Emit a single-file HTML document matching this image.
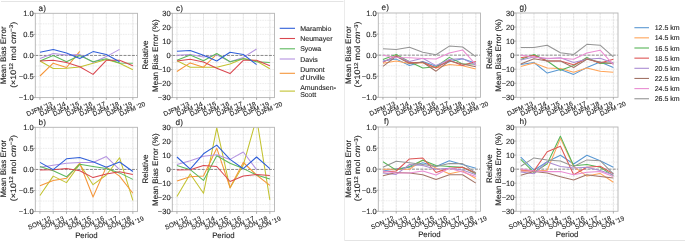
<!DOCTYPE html>
<html><head><meta charset="utf-8"><style>
html,body{margin:0;padding:0;background:#fff;width:685px;height:242px;overflow:hidden}
svg{display:block;will-change:transform} text{-webkit-font-smoothing:antialiased;text-rendering:geometricPrecision;stroke:#262626;stroke-width:0.12px}
</style></head><body>
<svg width="685" height="242" viewBox="0 0 685 242" font-family='"Liberation Sans", sans-serif'>
<rect width="685" height="242" fill="#fff"/>
<line x1="1" y1="1.5" x2="343.5" y2="1.5" stroke="#e4e4e4" stroke-width="1"/>
<line x1="344.5" y1="0" x2="344.5" y2="240.5" stroke="#ebebeb" stroke-width="1"/>
<line x1="344.5" y1="240.5" x2="685" y2="240.5" stroke="#e4e4e4" stroke-width="1"/>
<clipPath id="c35_13"><rect x="35.30" y="13.30" width="102.20" height="84.30"/></clipPath>
<line x1="35.30" y1="23.84" x2="137.50" y2="23.84" stroke="#e4e4e4" stroke-width="0.7" stroke-dasharray="1.6 0.9"/>
<line x1="35.30" y1="34.38" x2="137.50" y2="34.38" stroke="#e4e4e4" stroke-width="0.7" stroke-dasharray="1.6 0.9"/>
<line x1="35.30" y1="44.91" x2="137.50" y2="44.91" stroke="#e4e4e4" stroke-width="0.7" stroke-dasharray="1.6 0.9"/>
<line x1="35.30" y1="65.99" x2="137.50" y2="65.99" stroke="#e4e4e4" stroke-width="0.7" stroke-dasharray="1.6 0.9"/>
<line x1="35.30" y1="76.52" x2="137.50" y2="76.52" stroke="#e4e4e4" stroke-width="0.7" stroke-dasharray="1.6 0.9"/>
<line x1="35.30" y1="87.06" x2="137.50" y2="87.06" stroke="#e4e4e4" stroke-width="0.7" stroke-dasharray="1.6 0.9"/>
<line x1="39.95" y1="13.30" x2="39.95" y2="97.60" stroke="#e0e0e0" stroke-width="0.9" stroke-dasharray="2.5 0.5"/>
<line x1="53.22" y1="13.30" x2="53.22" y2="97.60" stroke="#e0e0e0" stroke-width="0.9" stroke-dasharray="2.5 0.5"/>
<line x1="66.49" y1="13.30" x2="66.49" y2="97.60" stroke="#e0e0e0" stroke-width="0.9" stroke-dasharray="2.5 0.5"/>
<line x1="79.76" y1="13.30" x2="79.76" y2="97.60" stroke="#e0e0e0" stroke-width="0.9" stroke-dasharray="2.5 0.5"/>
<line x1="93.04" y1="13.30" x2="93.04" y2="97.60" stroke="#e0e0e0" stroke-width="0.9" stroke-dasharray="2.5 0.5"/>
<line x1="106.31" y1="13.30" x2="106.31" y2="97.60" stroke="#e0e0e0" stroke-width="0.9" stroke-dasharray="2.5 0.5"/>
<line x1="119.58" y1="13.30" x2="119.58" y2="97.60" stroke="#e0e0e0" stroke-width="0.9" stroke-dasharray="2.5 0.5"/>
<line x1="132.85" y1="13.30" x2="132.85" y2="97.60" stroke="#e0e0e0" stroke-width="0.9" stroke-dasharray="2.5 0.5"/>
<line x1="35.30" y1="55.45" x2="137.50" y2="55.45" stroke="#7a7a7a" stroke-width="0.9" stroke-dasharray="3 1.2"/>
<g clip-path="url(#c35_13)" fill="none" stroke-width="1.05" stroke-linejoin="round">
<path d="M39.95 61.00 L53.22 68.50 L66.49 68.20 L79.76 67.00 L93.04 63.20 L106.31 59.50 L119.58 63.20 L132.85 69.70" stroke="#c2c230"/>
<path d="M39.95 76.00 L53.22 63.20 L66.49 67.50 L79.76 51.30" stroke="#f5963a"/>
<path d="M39.95 58.50 L53.22 53.50 L66.49 54.90 L79.76 54.50 L93.04 62.40 L106.31 56.60 L119.58 49.40" stroke="#b493e0"/>
<path d="M39.95 61.00 L53.22 55.60 L66.49 61.70 L79.76 55.60 L93.04 61.70 L106.31 58.80 L119.58 62.90 L132.85 63.20" stroke="#5cb85c"/>
<path d="M39.95 61.00 L53.22 60.30 L66.49 62.40 L79.76 66.80 L93.04 74.40 L106.31 60.30 L119.58 60.30 L132.85 65.80" stroke="#d9474f"/>
<path d="M39.95 52.30 L53.22 49.40 L66.49 53.00 L79.76 58.50 L93.04 51.60 L106.31 54.50 L119.58 61.70" stroke="#2f5fd9"/>
</g>
<rect x="35.30" y="13.30" width="102.20" height="84.30" fill="none" stroke="#b4b4b4" stroke-width="0.9"/>
<line x1="33.50" y1="13.30" x2="35.30" y2="13.30" stroke="#999" stroke-width="0.8"/>
<text x="33.60" y="15.90" font-size="7.5" text-anchor="end" fill="#262626">1.0</text>
<line x1="33.50" y1="34.38" x2="35.30" y2="34.38" stroke="#999" stroke-width="0.8"/>
<text x="33.60" y="36.98" font-size="7.5" text-anchor="end" fill="#262626">0.5</text>
<line x1="33.50" y1="55.45" x2="35.30" y2="55.45" stroke="#999" stroke-width="0.8"/>
<text x="33.60" y="58.05" font-size="7.5" text-anchor="end" fill="#262626">0.0</text>
<line x1="33.50" y1="76.52" x2="35.30" y2="76.52" stroke="#999" stroke-width="0.8"/>
<text x="33.60" y="79.12" font-size="7.5" text-anchor="end" fill="#262626">−0.5</text>
<line x1="33.50" y1="97.60" x2="35.30" y2="97.60" stroke="#999" stroke-width="0.8"/>
<text x="33.60" y="100.20" font-size="7.5" text-anchor="end" fill="#262626">−1.0</text>
<line x1="39.95" y1="97.60" x2="39.95" y2="99.80" stroke="#999" stroke-width="0.8"/>
<text transform="translate(39.35 108.90) rotate(-23)" font-size="6.5" text-anchor="middle" fill="#262626" dy="2.2">DJFM '13</text>
<line x1="53.22" y1="97.60" x2="53.22" y2="99.80" stroke="#999" stroke-width="0.8"/>
<text transform="translate(52.62 108.90) rotate(-23)" font-size="6.5" text-anchor="middle" fill="#262626" dy="2.2">DJFM '14</text>
<line x1="66.49" y1="97.60" x2="66.49" y2="99.80" stroke="#999" stroke-width="0.8"/>
<text transform="translate(65.89 108.90) rotate(-23)" font-size="6.5" text-anchor="middle" fill="#262626" dy="2.2">DJFM '15</text>
<line x1="79.76" y1="97.60" x2="79.76" y2="99.80" stroke="#999" stroke-width="0.8"/>
<text transform="translate(79.16 108.90) rotate(-23)" font-size="6.5" text-anchor="middle" fill="#262626" dy="2.2">DJFM '16</text>
<line x1="93.04" y1="97.60" x2="93.04" y2="99.80" stroke="#999" stroke-width="0.8"/>
<text transform="translate(92.44 108.90) rotate(-23)" font-size="6.5" text-anchor="middle" fill="#262626" dy="2.2">DJFM '17</text>
<line x1="106.31" y1="97.60" x2="106.31" y2="99.80" stroke="#999" stroke-width="0.8"/>
<text transform="translate(105.71 108.90) rotate(-23)" font-size="6.5" text-anchor="middle" fill="#262626" dy="2.2">DJFM '18</text>
<line x1="119.58" y1="97.60" x2="119.58" y2="99.80" stroke="#999" stroke-width="0.8"/>
<text transform="translate(118.98 108.90) rotate(-23)" font-size="6.5" text-anchor="middle" fill="#262626" dy="2.2">DJFM '19</text>
<line x1="132.85" y1="97.60" x2="132.85" y2="99.80" stroke="#999" stroke-width="0.8"/>
<text transform="translate(132.25 108.90) rotate(-23)" font-size="6.5" text-anchor="middle" fill="#262626" dy="2.2">DJFM '20</text>
<text x="45.90" y="10.70" font-size="8.2" text-anchor="end" fill="#262626">a)</text>
<text transform="translate(6.00 55.35) rotate(-90)" font-size="8" text-anchor="middle" fill="#262626">Mean Bias Error</text>
<text transform="translate(15.60 54.85) rotate(-90)" font-size="8" text-anchor="middle" fill="#262626" textLength="66.00" lengthAdjust="spacingAndGlyphs">(×10<tspan font-size="5.6" dy="-2.8">12</tspan><tspan dy="2.8"> mol </tspan><tspan font-style="italic">cm</tspan><tspan font-size="5.6" dy="-2.8">−3</tspan><tspan dy="2.8">)</tspan></text>
<clipPath id="c172_13"><rect x="172.30" y="13.30" width="102.20" height="84.30"/></clipPath>
<line x1="172.30" y1="20.33" x2="274.50" y2="20.33" stroke="#e4e4e4" stroke-width="0.7" stroke-dasharray="1.6 0.9"/>
<line x1="172.30" y1="27.35" x2="274.50" y2="27.35" stroke="#e4e4e4" stroke-width="0.7" stroke-dasharray="1.6 0.9"/>
<line x1="172.30" y1="34.38" x2="274.50" y2="34.38" stroke="#e4e4e4" stroke-width="0.7" stroke-dasharray="1.6 0.9"/>
<line x1="172.30" y1="41.40" x2="274.50" y2="41.40" stroke="#e4e4e4" stroke-width="0.7" stroke-dasharray="1.6 0.9"/>
<line x1="172.30" y1="48.42" x2="274.50" y2="48.42" stroke="#e4e4e4" stroke-width="0.7" stroke-dasharray="1.6 0.9"/>
<line x1="172.30" y1="62.47" x2="274.50" y2="62.47" stroke="#e4e4e4" stroke-width="0.7" stroke-dasharray="1.6 0.9"/>
<line x1="172.30" y1="69.50" x2="274.50" y2="69.50" stroke="#e4e4e4" stroke-width="0.7" stroke-dasharray="1.6 0.9"/>
<line x1="172.30" y1="76.52" x2="274.50" y2="76.52" stroke="#e4e4e4" stroke-width="0.7" stroke-dasharray="1.6 0.9"/>
<line x1="172.30" y1="83.55" x2="274.50" y2="83.55" stroke="#e4e4e4" stroke-width="0.7" stroke-dasharray="1.6 0.9"/>
<line x1="172.30" y1="90.57" x2="274.50" y2="90.57" stroke="#e4e4e4" stroke-width="0.7" stroke-dasharray="1.6 0.9"/>
<line x1="176.95" y1="13.30" x2="176.95" y2="97.60" stroke="#e0e0e0" stroke-width="0.9" stroke-dasharray="2.5 0.5"/>
<line x1="190.22" y1="13.30" x2="190.22" y2="97.60" stroke="#e0e0e0" stroke-width="0.9" stroke-dasharray="2.5 0.5"/>
<line x1="203.49" y1="13.30" x2="203.49" y2="97.60" stroke="#e0e0e0" stroke-width="0.9" stroke-dasharray="2.5 0.5"/>
<line x1="216.76" y1="13.30" x2="216.76" y2="97.60" stroke="#e0e0e0" stroke-width="0.9" stroke-dasharray="2.5 0.5"/>
<line x1="230.04" y1="13.30" x2="230.04" y2="97.60" stroke="#e0e0e0" stroke-width="0.9" stroke-dasharray="2.5 0.5"/>
<line x1="243.31" y1="13.30" x2="243.31" y2="97.60" stroke="#e0e0e0" stroke-width="0.9" stroke-dasharray="2.5 0.5"/>
<line x1="256.58" y1="13.30" x2="256.58" y2="97.60" stroke="#e0e0e0" stroke-width="0.9" stroke-dasharray="2.5 0.5"/>
<line x1="269.85" y1="13.30" x2="269.85" y2="97.60" stroke="#e0e0e0" stroke-width="0.9" stroke-dasharray="2.5 0.5"/>
<line x1="172.30" y1="55.45" x2="274.50" y2="55.45" stroke="#7a7a7a" stroke-width="0.9" stroke-dasharray="3 1.2"/>
<g clip-path="url(#c172_13)" fill="none" stroke-width="1.05" stroke-linejoin="round">
<path d="M176.95 60.70 L190.22 67.20 L203.49 67.20 L216.76 67.20 L230.04 63.90 L243.31 58.50 L256.58 61.00 L269.85 68.70" stroke="#c2c230"/>
<path d="M176.95 71.50 L190.22 62.90 L203.49 67.20 L216.76 54.20" stroke="#f5963a"/>
<path d="M176.95 55.20 L190.22 54.50 L203.49 57.00 L216.76 54.90 L230.04 61.70 L243.31 57.40 L256.58 49.00" stroke="#b493e0"/>
<path d="M176.95 60.30 L190.22 54.90 L203.49 60.70 L216.76 53.50 L230.04 61.70 L243.31 58.80 L256.58 61.70 L269.85 62.40" stroke="#5cb85c"/>
<path d="M176.95 61.00 L190.22 59.20 L203.49 62.10 L216.76 68.20 L230.04 73.60 L243.31 60.30 L256.58 60.30 L269.85 65.80" stroke="#d9474f"/>
<path d="M176.95 51.30 L190.22 50.60 L203.49 55.20 L216.76 61.00 L230.04 52.30 L243.31 54.50 L256.58 64.60" stroke="#2f5fd9"/>
</g>
<rect x="172.30" y="13.30" width="102.20" height="84.30" fill="none" stroke="#b4b4b4" stroke-width="0.9"/>
<line x1="170.50" y1="13.30" x2="172.30" y2="13.30" stroke="#999" stroke-width="0.8"/>
<text x="170.60" y="15.90" font-size="7.5" text-anchor="end" fill="#262626">30</text>
<line x1="170.50" y1="27.35" x2="172.30" y2="27.35" stroke="#999" stroke-width="0.8"/>
<text x="170.60" y="29.95" font-size="7.5" text-anchor="end" fill="#262626">20</text>
<line x1="170.50" y1="41.40" x2="172.30" y2="41.40" stroke="#999" stroke-width="0.8"/>
<text x="170.60" y="44.00" font-size="7.5" text-anchor="end" fill="#262626">10</text>
<line x1="170.50" y1="55.45" x2="172.30" y2="55.45" stroke="#999" stroke-width="0.8"/>
<text x="170.60" y="58.05" font-size="7.5" text-anchor="end" fill="#262626">0</text>
<line x1="170.50" y1="69.50" x2="172.30" y2="69.50" stroke="#999" stroke-width="0.8"/>
<text x="170.60" y="72.10" font-size="7.5" text-anchor="end" fill="#262626">−10</text>
<line x1="170.50" y1="83.55" x2="172.30" y2="83.55" stroke="#999" stroke-width="0.8"/>
<text x="170.60" y="86.15" font-size="7.5" text-anchor="end" fill="#262626">−20</text>
<line x1="170.50" y1="97.60" x2="172.30" y2="97.60" stroke="#999" stroke-width="0.8"/>
<text x="170.60" y="100.20" font-size="7.5" text-anchor="end" fill="#262626">−30</text>
<line x1="176.95" y1="97.60" x2="176.95" y2="99.80" stroke="#999" stroke-width="0.8"/>
<text transform="translate(176.35 108.90) rotate(-23)" font-size="6.5" text-anchor="middle" fill="#262626" dy="2.2">DJFM '13</text>
<line x1="190.22" y1="97.60" x2="190.22" y2="99.80" stroke="#999" stroke-width="0.8"/>
<text transform="translate(189.62 108.90) rotate(-23)" font-size="6.5" text-anchor="middle" fill="#262626" dy="2.2">DJFM '14</text>
<line x1="203.49" y1="97.60" x2="203.49" y2="99.80" stroke="#999" stroke-width="0.8"/>
<text transform="translate(202.89 108.90) rotate(-23)" font-size="6.5" text-anchor="middle" fill="#262626" dy="2.2">DJFM '15</text>
<line x1="216.76" y1="97.60" x2="216.76" y2="99.80" stroke="#999" stroke-width="0.8"/>
<text transform="translate(216.16 108.90) rotate(-23)" font-size="6.5" text-anchor="middle" fill="#262626" dy="2.2">DJFM '16</text>
<line x1="230.04" y1="97.60" x2="230.04" y2="99.80" stroke="#999" stroke-width="0.8"/>
<text transform="translate(229.44 108.90) rotate(-23)" font-size="6.5" text-anchor="middle" fill="#262626" dy="2.2">DJFM '17</text>
<line x1="243.31" y1="97.60" x2="243.31" y2="99.80" stroke="#999" stroke-width="0.8"/>
<text transform="translate(242.71 108.90) rotate(-23)" font-size="6.5" text-anchor="middle" fill="#262626" dy="2.2">DJFM '18</text>
<line x1="256.58" y1="97.60" x2="256.58" y2="99.80" stroke="#999" stroke-width="0.8"/>
<text transform="translate(255.98 108.90) rotate(-23)" font-size="6.5" text-anchor="middle" fill="#262626" dy="2.2">DJFM '19</text>
<line x1="269.85" y1="97.60" x2="269.85" y2="99.80" stroke="#999" stroke-width="0.8"/>
<text transform="translate(269.25 108.90) rotate(-23)" font-size="6.5" text-anchor="middle" fill="#262626" dy="2.2">DJFM '20</text>
<text x="182.90" y="10.70" font-size="8.2" text-anchor="end" fill="#262626">c)</text>
<text transform="translate(148.10 54.95) rotate(-90)" font-size="8" text-anchor="middle" fill="#262626">Relative</text>
<text transform="translate(158.00 55.70) rotate(-90)" font-size="8" text-anchor="middle" fill="#262626" textLength="72.50" lengthAdjust="spacingAndGlyphs">Mean Bias Error (%)</text>
<clipPath id="c35_127"><rect x="35.30" y="127.30" width="102.20" height="84.30"/></clipPath>
<line x1="35.30" y1="137.84" x2="137.50" y2="137.84" stroke="#e4e4e4" stroke-width="0.7" stroke-dasharray="1.6 0.9"/>
<line x1="35.30" y1="148.38" x2="137.50" y2="148.38" stroke="#e4e4e4" stroke-width="0.7" stroke-dasharray="1.6 0.9"/>
<line x1="35.30" y1="158.91" x2="137.50" y2="158.91" stroke="#e4e4e4" stroke-width="0.7" stroke-dasharray="1.6 0.9"/>
<line x1="35.30" y1="179.99" x2="137.50" y2="179.99" stroke="#e4e4e4" stroke-width="0.7" stroke-dasharray="1.6 0.9"/>
<line x1="35.30" y1="190.53" x2="137.50" y2="190.53" stroke="#e4e4e4" stroke-width="0.7" stroke-dasharray="1.6 0.9"/>
<line x1="35.30" y1="201.06" x2="137.50" y2="201.06" stroke="#e4e4e4" stroke-width="0.7" stroke-dasharray="1.6 0.9"/>
<line x1="39.95" y1="127.30" x2="39.95" y2="211.60" stroke="#e0e0e0" stroke-width="0.9" stroke-dasharray="2.5 0.5"/>
<line x1="53.22" y1="127.30" x2="53.22" y2="211.60" stroke="#e0e0e0" stroke-width="0.9" stroke-dasharray="2.5 0.5"/>
<line x1="66.49" y1="127.30" x2="66.49" y2="211.60" stroke="#e0e0e0" stroke-width="0.9" stroke-dasharray="2.5 0.5"/>
<line x1="79.76" y1="127.30" x2="79.76" y2="211.60" stroke="#e0e0e0" stroke-width="0.9" stroke-dasharray="2.5 0.5"/>
<line x1="93.04" y1="127.30" x2="93.04" y2="211.60" stroke="#e0e0e0" stroke-width="0.9" stroke-dasharray="2.5 0.5"/>
<line x1="106.31" y1="127.30" x2="106.31" y2="211.60" stroke="#e0e0e0" stroke-width="0.9" stroke-dasharray="2.5 0.5"/>
<line x1="119.58" y1="127.30" x2="119.58" y2="211.60" stroke="#e0e0e0" stroke-width="0.9" stroke-dasharray="2.5 0.5"/>
<line x1="132.85" y1="127.30" x2="132.85" y2="211.60" stroke="#e0e0e0" stroke-width="0.9" stroke-dasharray="2.5 0.5"/>
<line x1="35.30" y1="169.45" x2="137.50" y2="169.45" stroke="#7a7a7a" stroke-width="0.9" stroke-dasharray="3 1.2"/>
<g clip-path="url(#c35_127)" fill="none" stroke-width="1.05" stroke-linejoin="round">
<path d="M39.95 195.50 L53.22 176.10 L66.49 182.60 L79.76 164.30 L93.04 184.70 L106.31 175.00 L119.58 157.70 L132.85 200.40" stroke="#c2c230"/>
<path d="M39.95 185.80 L53.22 180.40 L66.49 178.30 L79.76 163.20 L93.04 197.00 L106.31 166.90 L119.58 176.10 L132.85 193.30" stroke="#f5963a"/>
<path d="M39.95 167.20 L53.22 165.30 L66.49 163.20 L79.76 162.40 L93.04 162.40 L106.31 156.60 L119.58 169.70" stroke="#b493e0"/>
<path d="M39.95 166.50 L53.22 170.80 L66.49 176.80 L79.76 164.30 L93.04 166.50 L106.31 168.60 L119.58 172.90 L132.85 179.40" stroke="#5cb85c"/>
<path d="M39.95 170.10 L53.22 169.70 L66.49 168.50 L79.76 170.80 L93.04 177.60 L106.31 174.00 L119.58 171.80 L132.85 174.60" stroke="#d9474f"/>
<path d="M39.95 162.40 L53.22 169.70 L66.49 158.80 L79.76 157.40 L93.04 161.70 L106.31 167.20 L119.58 162.00 L132.85 171.50" stroke="#2f5fd9"/>
</g>
<rect x="35.30" y="127.30" width="102.20" height="84.30" fill="none" stroke="#b4b4b4" stroke-width="0.9"/>
<line x1="33.50" y1="127.30" x2="35.30" y2="127.30" stroke="#999" stroke-width="0.8"/>
<text x="33.60" y="129.90" font-size="7.5" text-anchor="end" fill="#262626">1.0</text>
<line x1="33.50" y1="148.38" x2="35.30" y2="148.38" stroke="#999" stroke-width="0.8"/>
<text x="33.60" y="150.97" font-size="7.5" text-anchor="end" fill="#262626">0.5</text>
<line x1="33.50" y1="169.45" x2="35.30" y2="169.45" stroke="#999" stroke-width="0.8"/>
<text x="33.60" y="172.05" font-size="7.5" text-anchor="end" fill="#262626">0.0</text>
<line x1="33.50" y1="190.53" x2="35.30" y2="190.53" stroke="#999" stroke-width="0.8"/>
<text x="33.60" y="193.12" font-size="7.5" text-anchor="end" fill="#262626">−0.5</text>
<line x1="33.50" y1="211.60" x2="35.30" y2="211.60" stroke="#999" stroke-width="0.8"/>
<text x="33.60" y="214.20" font-size="7.5" text-anchor="end" fill="#262626">−1.0</text>
<line x1="39.95" y1="211.60" x2="39.95" y2="213.80" stroke="#999" stroke-width="0.8"/>
<text transform="translate(39.35 222.90) rotate(-23)" font-size="6.5" text-anchor="middle" fill="#262626" dy="2.2">SON '12</text>
<line x1="53.22" y1="211.60" x2="53.22" y2="213.80" stroke="#999" stroke-width="0.8"/>
<text transform="translate(52.62 222.90) rotate(-23)" font-size="6.5" text-anchor="middle" fill="#262626" dy="2.2">SON '13</text>
<line x1="66.49" y1="211.60" x2="66.49" y2="213.80" stroke="#999" stroke-width="0.8"/>
<text transform="translate(65.89 222.90) rotate(-23)" font-size="6.5" text-anchor="middle" fill="#262626" dy="2.2">SON '14</text>
<line x1="79.76" y1="211.60" x2="79.76" y2="213.80" stroke="#999" stroke-width="0.8"/>
<text transform="translate(79.16 222.90) rotate(-23)" font-size="6.5" text-anchor="middle" fill="#262626" dy="2.2">SON '15</text>
<line x1="93.04" y1="211.60" x2="93.04" y2="213.80" stroke="#999" stroke-width="0.8"/>
<text transform="translate(92.44 222.90) rotate(-23)" font-size="6.5" text-anchor="middle" fill="#262626" dy="2.2">SON '16</text>
<line x1="106.31" y1="211.60" x2="106.31" y2="213.80" stroke="#999" stroke-width="0.8"/>
<text transform="translate(105.71 222.90) rotate(-23)" font-size="6.5" text-anchor="middle" fill="#262626" dy="2.2">SON '17</text>
<line x1="119.58" y1="211.60" x2="119.58" y2="213.80" stroke="#999" stroke-width="0.8"/>
<text transform="translate(118.98 222.90) rotate(-23)" font-size="6.5" text-anchor="middle" fill="#262626" dy="2.2">SON '18</text>
<line x1="132.85" y1="211.60" x2="132.85" y2="213.80" stroke="#999" stroke-width="0.8"/>
<text transform="translate(132.25 222.90) rotate(-23)" font-size="6.5" text-anchor="middle" fill="#262626" dy="2.2">SON '19</text>
<text x="45.90" y="124.70" font-size="8.2" text-anchor="end" fill="#262626">b)</text>
<text transform="translate(6.00 168.65) rotate(-90)" font-size="8" text-anchor="middle" fill="#262626">Mean Bias Error</text>
<text transform="translate(15.60 168.15) rotate(-90)" font-size="8" text-anchor="middle" fill="#262626" textLength="66.00" lengthAdjust="spacingAndGlyphs">(×10<tspan font-size="5.6" dy="-2.8">12</tspan><tspan dy="2.8"> mol </tspan><tspan font-style="italic">cm</tspan><tspan font-size="5.6" dy="-2.8">−3</tspan><tspan dy="2.8">)</tspan></text>
<text x="86.40" y="238.30" font-size="7.8" text-anchor="middle" fill="#262626">Period</text>
<clipPath id="c172_127"><rect x="172.30" y="127.30" width="102.20" height="84.30"/></clipPath>
<line x1="172.30" y1="134.32" x2="274.50" y2="134.32" stroke="#e4e4e4" stroke-width="0.7" stroke-dasharray="1.6 0.9"/>
<line x1="172.30" y1="141.35" x2="274.50" y2="141.35" stroke="#e4e4e4" stroke-width="0.7" stroke-dasharray="1.6 0.9"/>
<line x1="172.30" y1="148.38" x2="274.50" y2="148.38" stroke="#e4e4e4" stroke-width="0.7" stroke-dasharray="1.6 0.9"/>
<line x1="172.30" y1="155.40" x2="274.50" y2="155.40" stroke="#e4e4e4" stroke-width="0.7" stroke-dasharray="1.6 0.9"/>
<line x1="172.30" y1="162.42" x2="274.50" y2="162.42" stroke="#e4e4e4" stroke-width="0.7" stroke-dasharray="1.6 0.9"/>
<line x1="172.30" y1="176.47" x2="274.50" y2="176.47" stroke="#e4e4e4" stroke-width="0.7" stroke-dasharray="1.6 0.9"/>
<line x1="172.30" y1="183.50" x2="274.50" y2="183.50" stroke="#e4e4e4" stroke-width="0.7" stroke-dasharray="1.6 0.9"/>
<line x1="172.30" y1="190.53" x2="274.50" y2="190.53" stroke="#e4e4e4" stroke-width="0.7" stroke-dasharray="1.6 0.9"/>
<line x1="172.30" y1="197.55" x2="274.50" y2="197.55" stroke="#e4e4e4" stroke-width="0.7" stroke-dasharray="1.6 0.9"/>
<line x1="172.30" y1="204.57" x2="274.50" y2="204.57" stroke="#e4e4e4" stroke-width="0.7" stroke-dasharray="1.6 0.9"/>
<line x1="176.95" y1="127.30" x2="176.95" y2="211.60" stroke="#e0e0e0" stroke-width="0.9" stroke-dasharray="2.5 0.5"/>
<line x1="190.22" y1="127.30" x2="190.22" y2="211.60" stroke="#e0e0e0" stroke-width="0.9" stroke-dasharray="2.5 0.5"/>
<line x1="203.49" y1="127.30" x2="203.49" y2="211.60" stroke="#e0e0e0" stroke-width="0.9" stroke-dasharray="2.5 0.5"/>
<line x1="216.76" y1="127.30" x2="216.76" y2="211.60" stroke="#e0e0e0" stroke-width="0.9" stroke-dasharray="2.5 0.5"/>
<line x1="230.04" y1="127.30" x2="230.04" y2="211.60" stroke="#e0e0e0" stroke-width="0.9" stroke-dasharray="2.5 0.5"/>
<line x1="243.31" y1="127.30" x2="243.31" y2="211.60" stroke="#e0e0e0" stroke-width="0.9" stroke-dasharray="2.5 0.5"/>
<line x1="256.58" y1="127.30" x2="256.58" y2="211.60" stroke="#e0e0e0" stroke-width="0.9" stroke-dasharray="2.5 0.5"/>
<line x1="269.85" y1="127.30" x2="269.85" y2="211.60" stroke="#e0e0e0" stroke-width="0.9" stroke-dasharray="2.5 0.5"/>
<line x1="172.30" y1="169.45" x2="274.50" y2="169.45" stroke="#7a7a7a" stroke-width="0.9" stroke-dasharray="3 1.2"/>
<g clip-path="url(#c172_127)" fill="none" stroke-width="1.05" stroke-linejoin="round">
<path d="M176.95 196.60 L190.22 174.00 L203.49 193.30 L216.76 127.80 L230.04 188.00 L243.31 165.00 L256.58 118.00 L269.85 199.80" stroke="#c2c230"/>
<path d="M176.95 181.00 L190.22 176.80 L203.49 176.10 L216.76 148.20 L230.04 187.50 L243.31 162.50 L256.58 175.00 L269.85 185.40" stroke="#f5963a"/>
<path d="M176.95 164.60 L190.22 160.70 L203.49 156.20 L216.76 154.70 L230.04 159.40 L243.31 152.00 L256.58 169.60" stroke="#b493e0"/>
<path d="M176.95 165.40 L190.22 169.70 L203.49 180.40 L216.76 155.70 L230.04 163.20 L243.31 168.60 L256.58 175.00 L269.85 178.90" stroke="#5cb85c"/>
<path d="M176.95 170.10 L190.22 169.70 L203.49 165.40 L216.76 166.50 L230.04 181.50 L243.31 176.10 L256.58 174.60 L269.85 175.50" stroke="#d9474f"/>
<path d="M176.95 157.00 L190.22 169.20 L203.49 153.80 L216.76 145.10 L230.04 159.40 L243.31 168.70 L256.58 157.00 L269.85 168.70" stroke="#2f5fd9"/>
</g>
<rect x="172.30" y="127.30" width="102.20" height="84.30" fill="none" stroke="#b4b4b4" stroke-width="0.9"/>
<line x1="170.50" y1="127.30" x2="172.30" y2="127.30" stroke="#999" stroke-width="0.8"/>
<text x="170.60" y="129.90" font-size="7.5" text-anchor="end" fill="#262626">30</text>
<line x1="170.50" y1="141.35" x2="172.30" y2="141.35" stroke="#999" stroke-width="0.8"/>
<text x="170.60" y="143.95" font-size="7.5" text-anchor="end" fill="#262626">20</text>
<line x1="170.50" y1="155.40" x2="172.30" y2="155.40" stroke="#999" stroke-width="0.8"/>
<text x="170.60" y="158.00" font-size="7.5" text-anchor="end" fill="#262626">10</text>
<line x1="170.50" y1="169.45" x2="172.30" y2="169.45" stroke="#999" stroke-width="0.8"/>
<text x="170.60" y="172.05" font-size="7.5" text-anchor="end" fill="#262626">0</text>
<line x1="170.50" y1="183.50" x2="172.30" y2="183.50" stroke="#999" stroke-width="0.8"/>
<text x="170.60" y="186.10" font-size="7.5" text-anchor="end" fill="#262626">−10</text>
<line x1="170.50" y1="197.55" x2="172.30" y2="197.55" stroke="#999" stroke-width="0.8"/>
<text x="170.60" y="200.15" font-size="7.5" text-anchor="end" fill="#262626">−20</text>
<line x1="170.50" y1="211.60" x2="172.30" y2="211.60" stroke="#999" stroke-width="0.8"/>
<text x="170.60" y="214.20" font-size="7.5" text-anchor="end" fill="#262626">−30</text>
<line x1="176.95" y1="211.60" x2="176.95" y2="213.80" stroke="#999" stroke-width="0.8"/>
<text transform="translate(176.35 222.90) rotate(-23)" font-size="6.5" text-anchor="middle" fill="#262626" dy="2.2">SON '12</text>
<line x1="190.22" y1="211.60" x2="190.22" y2="213.80" stroke="#999" stroke-width="0.8"/>
<text transform="translate(189.62 222.90) rotate(-23)" font-size="6.5" text-anchor="middle" fill="#262626" dy="2.2">SON '13</text>
<line x1="203.49" y1="211.60" x2="203.49" y2="213.80" stroke="#999" stroke-width="0.8"/>
<text transform="translate(202.89 222.90) rotate(-23)" font-size="6.5" text-anchor="middle" fill="#262626" dy="2.2">SON '14</text>
<line x1="216.76" y1="211.60" x2="216.76" y2="213.80" stroke="#999" stroke-width="0.8"/>
<text transform="translate(216.16 222.90) rotate(-23)" font-size="6.5" text-anchor="middle" fill="#262626" dy="2.2">SON '15</text>
<line x1="230.04" y1="211.60" x2="230.04" y2="213.80" stroke="#999" stroke-width="0.8"/>
<text transform="translate(229.44 222.90) rotate(-23)" font-size="6.5" text-anchor="middle" fill="#262626" dy="2.2">SON '16</text>
<line x1="243.31" y1="211.60" x2="243.31" y2="213.80" stroke="#999" stroke-width="0.8"/>
<text transform="translate(242.71 222.90) rotate(-23)" font-size="6.5" text-anchor="middle" fill="#262626" dy="2.2">SON '17</text>
<line x1="256.58" y1="211.60" x2="256.58" y2="213.80" stroke="#999" stroke-width="0.8"/>
<text transform="translate(255.98 222.90) rotate(-23)" font-size="6.5" text-anchor="middle" fill="#262626" dy="2.2">SON '18</text>
<line x1="269.85" y1="211.60" x2="269.85" y2="213.80" stroke="#999" stroke-width="0.8"/>
<text transform="translate(269.25 222.90) rotate(-23)" font-size="6.5" text-anchor="middle" fill="#262626" dy="2.2">SON '19</text>
<text x="182.90" y="124.70" font-size="8.2" text-anchor="end" fill="#262626">d)</text>
<text transform="translate(148.10 168.95) rotate(-90)" font-size="8" text-anchor="middle" fill="#262626">Relative</text>
<text transform="translate(158.00 169.70) rotate(-90)" font-size="8" text-anchor="middle" fill="#262626" textLength="72.50" lengthAdjust="spacingAndGlyphs">Mean Bias Error (%)</text>
<text x="223.40" y="238.30" font-size="7.8" text-anchor="middle" fill="#262626">Period</text>
<clipPath id="c378_13"><rect x="378.30" y="13.00" width="102.20" height="84.30"/></clipPath>
<line x1="378.30" y1="23.54" x2="480.50" y2="23.54" stroke="#e4e4e4" stroke-width="0.7" stroke-dasharray="1.6 0.9"/>
<line x1="378.30" y1="34.08" x2="480.50" y2="34.08" stroke="#e4e4e4" stroke-width="0.7" stroke-dasharray="1.6 0.9"/>
<line x1="378.30" y1="44.61" x2="480.50" y2="44.61" stroke="#e4e4e4" stroke-width="0.7" stroke-dasharray="1.6 0.9"/>
<line x1="378.30" y1="65.69" x2="480.50" y2="65.69" stroke="#e4e4e4" stroke-width="0.7" stroke-dasharray="1.6 0.9"/>
<line x1="378.30" y1="76.22" x2="480.50" y2="76.22" stroke="#e4e4e4" stroke-width="0.7" stroke-dasharray="1.6 0.9"/>
<line x1="378.30" y1="86.76" x2="480.50" y2="86.76" stroke="#e4e4e4" stroke-width="0.7" stroke-dasharray="1.6 0.9"/>
<line x1="382.95" y1="13.00" x2="382.95" y2="97.30" stroke="#e0e0e0" stroke-width="0.9" stroke-dasharray="2.5 0.5"/>
<line x1="396.22" y1="13.00" x2="396.22" y2="97.30" stroke="#e0e0e0" stroke-width="0.9" stroke-dasharray="2.5 0.5"/>
<line x1="409.49" y1="13.00" x2="409.49" y2="97.30" stroke="#e0e0e0" stroke-width="0.9" stroke-dasharray="2.5 0.5"/>
<line x1="422.76" y1="13.00" x2="422.76" y2="97.30" stroke="#e0e0e0" stroke-width="0.9" stroke-dasharray="2.5 0.5"/>
<line x1="436.04" y1="13.00" x2="436.04" y2="97.30" stroke="#e0e0e0" stroke-width="0.9" stroke-dasharray="2.5 0.5"/>
<line x1="449.31" y1="13.00" x2="449.31" y2="97.30" stroke="#e0e0e0" stroke-width="0.9" stroke-dasharray="2.5 0.5"/>
<line x1="462.58" y1="13.00" x2="462.58" y2="97.30" stroke="#e0e0e0" stroke-width="0.9" stroke-dasharray="2.5 0.5"/>
<line x1="475.85" y1="13.00" x2="475.85" y2="97.30" stroke="#e0e0e0" stroke-width="0.9" stroke-dasharray="2.5 0.5"/>
<line x1="378.30" y1="55.15" x2="480.50" y2="55.15" stroke="#7a7a7a" stroke-width="0.9" stroke-dasharray="3 1.2"/>
<g clip-path="url(#c378_13)" fill="none" stroke-width="1.05" stroke-linejoin="round">
<path d="M382.95 61.10 L396.22 59.10 L409.49 65.50 L422.76 61.50 L436.04 66.20 L449.31 61.70 L462.58 58.80 L475.85 63.20" stroke="#5a98d2"/>
<path d="M382.95 63.20 L396.22 60.90 L409.49 63.60 L422.76 62.80 L436.04 67.90 L449.31 64.60 L462.58 65.80 L475.85 69.00" stroke="#ffa458"/>
<path d="M382.95 59.50 L396.22 54.40 L409.49 61.80 L422.76 67.90 L436.04 66.70 L449.31 57.40 L462.58 63.90 L475.85 63.90" stroke="#58b458"/>
<path d="M382.95 62.30 L396.22 55.60 L409.49 62.70 L422.76 62.30 L436.04 67.90 L449.31 60.30 L462.58 65.40 L475.85 61.40" stroke="#de5656"/>
<path d="M382.95 61.60 L396.22 56.80 L409.49 61.40 L422.76 58.20 L436.04 65.60 L449.31 59.60 L462.58 58.60 L475.85 65.40" stroke="#ab8cd2"/>
<path d="M382.95 66.40 L396.22 56.40 L409.49 63.60 L422.76 62.30 L436.04 71.20 L449.31 61.00 L462.58 63.90 L475.85 66.80" stroke="#a27468"/>
<path d="M382.95 55.30 L396.22 57.50 L409.49 57.70 L422.76 58.40 L436.04 58.90 L449.31 53.00 L462.58 49.90 L475.85 64.60" stroke="#e98dd2"/>
<path d="M382.95 48.70 L396.22 49.40 L409.49 47.20 L422.76 52.20 L436.04 54.80 L449.31 46.10 L462.58 47.00 L475.85 56.70" stroke="#959595"/>
</g>
<rect x="378.30" y="13.00" width="102.20" height="84.30" fill="none" stroke="#b4b4b4" stroke-width="0.9"/>
<line x1="376.50" y1="13.00" x2="378.30" y2="13.00" stroke="#999" stroke-width="0.8"/>
<text x="376.60" y="15.60" font-size="7.5" text-anchor="end" fill="#262626">1.0</text>
<line x1="376.50" y1="34.08" x2="378.30" y2="34.08" stroke="#999" stroke-width="0.8"/>
<text x="376.60" y="36.68" font-size="7.5" text-anchor="end" fill="#262626">0.5</text>
<line x1="376.50" y1="55.15" x2="378.30" y2="55.15" stroke="#999" stroke-width="0.8"/>
<text x="376.60" y="57.75" font-size="7.5" text-anchor="end" fill="#262626">0.0</text>
<line x1="376.50" y1="76.22" x2="378.30" y2="76.22" stroke="#999" stroke-width="0.8"/>
<text x="376.60" y="78.82" font-size="7.5" text-anchor="end" fill="#262626">−0.5</text>
<line x1="376.50" y1="97.30" x2="378.30" y2="97.30" stroke="#999" stroke-width="0.8"/>
<text x="376.60" y="99.90" font-size="7.5" text-anchor="end" fill="#262626">−1.0</text>
<line x1="382.95" y1="97.30" x2="382.95" y2="99.50" stroke="#999" stroke-width="0.8"/>
<text transform="translate(382.35 108.60) rotate(-23)" font-size="6.5" text-anchor="middle" fill="#262626" dy="2.2">DJFM '13</text>
<line x1="396.22" y1="97.30" x2="396.22" y2="99.50" stroke="#999" stroke-width="0.8"/>
<text transform="translate(395.62 108.60) rotate(-23)" font-size="6.5" text-anchor="middle" fill="#262626" dy="2.2">DJFM '14</text>
<line x1="409.49" y1="97.30" x2="409.49" y2="99.50" stroke="#999" stroke-width="0.8"/>
<text transform="translate(408.89 108.60) rotate(-23)" font-size="6.5" text-anchor="middle" fill="#262626" dy="2.2">DJFM '15</text>
<line x1="422.76" y1="97.30" x2="422.76" y2="99.50" stroke="#999" stroke-width="0.8"/>
<text transform="translate(422.16 108.60) rotate(-23)" font-size="6.5" text-anchor="middle" fill="#262626" dy="2.2">DJFM '16</text>
<line x1="436.04" y1="97.30" x2="436.04" y2="99.50" stroke="#999" stroke-width="0.8"/>
<text transform="translate(435.44 108.60) rotate(-23)" font-size="6.5" text-anchor="middle" fill="#262626" dy="2.2">DJFM '17</text>
<line x1="449.31" y1="97.30" x2="449.31" y2="99.50" stroke="#999" stroke-width="0.8"/>
<text transform="translate(448.71 108.60) rotate(-23)" font-size="6.5" text-anchor="middle" fill="#262626" dy="2.2">DJFM '18</text>
<line x1="462.58" y1="97.30" x2="462.58" y2="99.50" stroke="#999" stroke-width="0.8"/>
<text transform="translate(461.98 108.60) rotate(-23)" font-size="6.5" text-anchor="middle" fill="#262626" dy="2.2">DJFM '19</text>
<line x1="475.85" y1="97.30" x2="475.85" y2="99.50" stroke="#999" stroke-width="0.8"/>
<text transform="translate(475.25 108.60) rotate(-23)" font-size="6.5" text-anchor="middle" fill="#262626" dy="2.2">DJFM '20</text>
<text x="388.90" y="10.40" font-size="8.2" text-anchor="end" fill="#262626">e)</text>
<text transform="translate(351.10 55.05) rotate(-90)" font-size="8" text-anchor="middle" fill="#262626">Mean Bias Error</text>
<text transform="translate(360.30 54.55) rotate(-90)" font-size="8" text-anchor="middle" fill="#262626" textLength="66.00" lengthAdjust="spacingAndGlyphs">(×10<tspan font-size="5.6" dy="-2.8">12</tspan><tspan dy="2.8"> mol </tspan><tspan font-style="italic">cm</tspan><tspan font-size="5.6" dy="-2.8">−3</tspan><tspan dy="2.8">)</tspan></text>
<clipPath id="c516_13"><rect x="516.10" y="13.00" width="101.90" height="84.30"/></clipPath>
<line x1="516.10" y1="20.03" x2="618.00" y2="20.03" stroke="#e4e4e4" stroke-width="0.7" stroke-dasharray="1.6 0.9"/>
<line x1="516.10" y1="27.05" x2="618.00" y2="27.05" stroke="#e4e4e4" stroke-width="0.7" stroke-dasharray="1.6 0.9"/>
<line x1="516.10" y1="34.08" x2="618.00" y2="34.08" stroke="#e4e4e4" stroke-width="0.7" stroke-dasharray="1.6 0.9"/>
<line x1="516.10" y1="41.10" x2="618.00" y2="41.10" stroke="#e4e4e4" stroke-width="0.7" stroke-dasharray="1.6 0.9"/>
<line x1="516.10" y1="48.12" x2="618.00" y2="48.12" stroke="#e4e4e4" stroke-width="0.7" stroke-dasharray="1.6 0.9"/>
<line x1="516.10" y1="62.17" x2="618.00" y2="62.17" stroke="#e4e4e4" stroke-width="0.7" stroke-dasharray="1.6 0.9"/>
<line x1="516.10" y1="69.20" x2="618.00" y2="69.20" stroke="#e4e4e4" stroke-width="0.7" stroke-dasharray="1.6 0.9"/>
<line x1="516.10" y1="76.22" x2="618.00" y2="76.22" stroke="#e4e4e4" stroke-width="0.7" stroke-dasharray="1.6 0.9"/>
<line x1="516.10" y1="83.25" x2="618.00" y2="83.25" stroke="#e4e4e4" stroke-width="0.7" stroke-dasharray="1.6 0.9"/>
<line x1="516.10" y1="90.27" x2="618.00" y2="90.27" stroke="#e4e4e4" stroke-width="0.7" stroke-dasharray="1.6 0.9"/>
<line x1="520.73" y1="13.00" x2="520.73" y2="97.30" stroke="#e0e0e0" stroke-width="0.9" stroke-dasharray="2.5 0.5"/>
<line x1="533.97" y1="13.00" x2="533.97" y2="97.30" stroke="#e0e0e0" stroke-width="0.9" stroke-dasharray="2.5 0.5"/>
<line x1="547.20" y1="13.00" x2="547.20" y2="97.30" stroke="#e0e0e0" stroke-width="0.9" stroke-dasharray="2.5 0.5"/>
<line x1="560.43" y1="13.00" x2="560.43" y2="97.30" stroke="#e0e0e0" stroke-width="0.9" stroke-dasharray="2.5 0.5"/>
<line x1="573.67" y1="13.00" x2="573.67" y2="97.30" stroke="#e0e0e0" stroke-width="0.9" stroke-dasharray="2.5 0.5"/>
<line x1="586.90" y1="13.00" x2="586.90" y2="97.30" stroke="#e0e0e0" stroke-width="0.9" stroke-dasharray="2.5 0.5"/>
<line x1="600.13" y1="13.00" x2="600.13" y2="97.30" stroke="#e0e0e0" stroke-width="0.9" stroke-dasharray="2.5 0.5"/>
<line x1="613.37" y1="13.00" x2="613.37" y2="97.30" stroke="#e0e0e0" stroke-width="0.9" stroke-dasharray="2.5 0.5"/>
<line x1="516.10" y1="55.15" x2="618.00" y2="55.15" stroke="#7a7a7a" stroke-width="0.9" stroke-dasharray="3 1.2"/>
<g clip-path="url(#c516_13)" fill="none" stroke-width="1.05" stroke-linejoin="round">
<path d="M520.73 64.40 L533.97 62.50 L547.20 73.10 L560.43 69.40 L573.67 74.40 L586.90 67.50 L600.13 62.00 L613.37 67.50" stroke="#5a98d2"/>
<path d="M520.73 66.60 L533.97 62.90 L547.20 68.10 L560.43 68.50 L573.67 72.20 L586.90 68.10 L600.13 71.20 L613.37 72.20" stroke="#ffa458"/>
<path d="M520.73 59.40 L533.97 54.50 L547.20 61.00 L560.43 70.20 L573.67 65.50 L586.90 57.50 L600.13 63.60 L613.37 62.90" stroke="#58b458"/>
<path d="M520.73 57.70 L533.97 55.40 L547.20 61.00 L560.43 61.00 L573.67 64.70 L586.90 58.80 L600.13 62.90 L613.37 59.20" stroke="#de5656"/>
<path d="M520.73 60.10 L533.97 56.90 L547.20 58.80 L560.43 57.70 L573.67 62.50 L586.90 59.20 L600.13 58.20 L613.37 62.90" stroke="#ab8cd2"/>
<path d="M520.73 64.00 L533.97 58.80 L547.20 61.00 L560.43 61.00 L573.67 67.50 L586.90 59.20 L600.13 62.00 L613.37 63.80" stroke="#a27468"/>
<path d="M520.73 55.10 L533.97 57.30 L547.20 58.20 L560.43 58.20 L573.67 59.20 L586.90 53.00 L600.13 50.20 L613.37 64.70" stroke="#e98dd2"/>
<path d="M520.73 47.50 L533.97 47.50 L547.20 45.20 L560.43 52.70 L573.67 54.50 L586.90 44.30 L600.13 45.20 L613.37 56.90" stroke="#959595"/>
</g>
<rect x="516.10" y="13.00" width="101.90" height="84.30" fill="none" stroke="#b4b4b4" stroke-width="0.9"/>
<line x1="514.30" y1="13.00" x2="516.10" y2="13.00" stroke="#999" stroke-width="0.8"/>
<text x="514.40" y="15.60" font-size="7.5" text-anchor="end" fill="#262626">30</text>
<line x1="514.30" y1="27.05" x2="516.10" y2="27.05" stroke="#999" stroke-width="0.8"/>
<text x="514.40" y="29.65" font-size="7.5" text-anchor="end" fill="#262626">20</text>
<line x1="514.30" y1="41.10" x2="516.10" y2="41.10" stroke="#999" stroke-width="0.8"/>
<text x="514.40" y="43.70" font-size="7.5" text-anchor="end" fill="#262626">10</text>
<line x1="514.30" y1="55.15" x2="516.10" y2="55.15" stroke="#999" stroke-width="0.8"/>
<text x="514.40" y="57.75" font-size="7.5" text-anchor="end" fill="#262626">0</text>
<line x1="514.30" y1="69.20" x2="516.10" y2="69.20" stroke="#999" stroke-width="0.8"/>
<text x="514.40" y="71.80" font-size="7.5" text-anchor="end" fill="#262626">−10</text>
<line x1="514.30" y1="83.25" x2="516.10" y2="83.25" stroke="#999" stroke-width="0.8"/>
<text x="514.40" y="85.85" font-size="7.5" text-anchor="end" fill="#262626">−20</text>
<line x1="514.30" y1="97.30" x2="516.10" y2="97.30" stroke="#999" stroke-width="0.8"/>
<text x="514.40" y="99.90" font-size="7.5" text-anchor="end" fill="#262626">−30</text>
<line x1="520.73" y1="97.30" x2="520.73" y2="99.50" stroke="#999" stroke-width="0.8"/>
<text transform="translate(520.13 108.60) rotate(-23)" font-size="6.5" text-anchor="middle" fill="#262626" dy="2.2">DJFM '13</text>
<line x1="533.97" y1="97.30" x2="533.97" y2="99.50" stroke="#999" stroke-width="0.8"/>
<text transform="translate(533.37 108.60) rotate(-23)" font-size="6.5" text-anchor="middle" fill="#262626" dy="2.2">DJFM '14</text>
<line x1="547.20" y1="97.30" x2="547.20" y2="99.50" stroke="#999" stroke-width="0.8"/>
<text transform="translate(546.60 108.60) rotate(-23)" font-size="6.5" text-anchor="middle" fill="#262626" dy="2.2">DJFM '15</text>
<line x1="560.43" y1="97.30" x2="560.43" y2="99.50" stroke="#999" stroke-width="0.8"/>
<text transform="translate(559.83 108.60) rotate(-23)" font-size="6.5" text-anchor="middle" fill="#262626" dy="2.2">DJFM '16</text>
<line x1="573.67" y1="97.30" x2="573.67" y2="99.50" stroke="#999" stroke-width="0.8"/>
<text transform="translate(573.07 108.60) rotate(-23)" font-size="6.5" text-anchor="middle" fill="#262626" dy="2.2">DJFM '17</text>
<line x1="586.90" y1="97.30" x2="586.90" y2="99.50" stroke="#999" stroke-width="0.8"/>
<text transform="translate(586.30 108.60) rotate(-23)" font-size="6.5" text-anchor="middle" fill="#262626" dy="2.2">DJFM '18</text>
<line x1="600.13" y1="97.30" x2="600.13" y2="99.50" stroke="#999" stroke-width="0.8"/>
<text transform="translate(599.53 108.60) rotate(-23)" font-size="6.5" text-anchor="middle" fill="#262626" dy="2.2">DJFM '19</text>
<line x1="613.37" y1="97.30" x2="613.37" y2="99.50" stroke="#999" stroke-width="0.8"/>
<text transform="translate(612.77 108.60) rotate(-23)" font-size="6.5" text-anchor="middle" fill="#262626" dy="2.2">DJFM '20</text>
<text x="526.70" y="10.40" font-size="8.2" text-anchor="end" fill="#262626">g)</text>
<text transform="translate(491.50 54.65) rotate(-90)" font-size="8" text-anchor="middle" fill="#262626">Relative</text>
<text transform="translate(501.40 55.40) rotate(-90)" font-size="8" text-anchor="middle" fill="#262626" textLength="72.50" lengthAdjust="spacingAndGlyphs">Mean Bias Error (%)</text>
<clipPath id="c378_127"><rect x="378.30" y="127.00" width="102.20" height="84.30"/></clipPath>
<line x1="378.30" y1="137.54" x2="480.50" y2="137.54" stroke="#e4e4e4" stroke-width="0.7" stroke-dasharray="1.6 0.9"/>
<line x1="378.30" y1="148.07" x2="480.50" y2="148.07" stroke="#e4e4e4" stroke-width="0.7" stroke-dasharray="1.6 0.9"/>
<line x1="378.30" y1="158.61" x2="480.50" y2="158.61" stroke="#e4e4e4" stroke-width="0.7" stroke-dasharray="1.6 0.9"/>
<line x1="378.30" y1="179.69" x2="480.50" y2="179.69" stroke="#e4e4e4" stroke-width="0.7" stroke-dasharray="1.6 0.9"/>
<line x1="378.30" y1="190.23" x2="480.50" y2="190.23" stroke="#e4e4e4" stroke-width="0.7" stroke-dasharray="1.6 0.9"/>
<line x1="378.30" y1="200.76" x2="480.50" y2="200.76" stroke="#e4e4e4" stroke-width="0.7" stroke-dasharray="1.6 0.9"/>
<line x1="382.95" y1="127.00" x2="382.95" y2="211.30" stroke="#e0e0e0" stroke-width="0.9" stroke-dasharray="2.5 0.5"/>
<line x1="396.22" y1="127.00" x2="396.22" y2="211.30" stroke="#e0e0e0" stroke-width="0.9" stroke-dasharray="2.5 0.5"/>
<line x1="409.49" y1="127.00" x2="409.49" y2="211.30" stroke="#e0e0e0" stroke-width="0.9" stroke-dasharray="2.5 0.5"/>
<line x1="422.76" y1="127.00" x2="422.76" y2="211.30" stroke="#e0e0e0" stroke-width="0.9" stroke-dasharray="2.5 0.5"/>
<line x1="436.04" y1="127.00" x2="436.04" y2="211.30" stroke="#e0e0e0" stroke-width="0.9" stroke-dasharray="2.5 0.5"/>
<line x1="449.31" y1="127.00" x2="449.31" y2="211.30" stroke="#e0e0e0" stroke-width="0.9" stroke-dasharray="2.5 0.5"/>
<line x1="462.58" y1="127.00" x2="462.58" y2="211.30" stroke="#e0e0e0" stroke-width="0.9" stroke-dasharray="2.5 0.5"/>
<line x1="475.85" y1="127.00" x2="475.85" y2="211.30" stroke="#e0e0e0" stroke-width="0.9" stroke-dasharray="2.5 0.5"/>
<line x1="378.30" y1="169.15" x2="480.50" y2="169.15" stroke="#7a7a7a" stroke-width="0.9" stroke-dasharray="3 1.2"/>
<g clip-path="url(#c378_127)" fill="none" stroke-width="1.05" stroke-linejoin="round">
<path d="M382.95 171.00 L396.22 168.80 L409.49 167.30 L422.76 162.70 L436.04 166.40 L449.31 160.80 L462.58 164.50 L475.85 168.20" stroke="#5a98d2"/>
<path d="M382.95 169.20 L396.22 169.20 L409.49 169.20 L422.76 159.90 L436.04 168.20 L449.31 173.80 L462.58 171.00 L475.85 178.50" stroke="#ffa458"/>
<path d="M382.95 161.70 L396.22 170.10 L409.49 166.40 L422.76 160.20 L436.04 165.40 L449.31 166.40 L462.58 167.30 L475.85 173.80" stroke="#58b458"/>
<path d="M382.95 172.00 L396.22 171.00 L409.49 158.90 L422.76 158.00 L436.04 172.50 L449.31 168.20 L462.58 167.30 L475.85 172.90" stroke="#de5656"/>
<path d="M382.95 172.90 L396.22 174.40 L409.49 164.50 L422.76 165.40 L436.04 169.20 L449.31 168.20 L462.58 170.10 L475.85 174.70" stroke="#ab8cd2"/>
<path d="M382.95 175.70 L396.22 172.50 L409.49 172.90 L422.76 174.70 L436.04 179.40 L449.31 174.70 L462.58 174.70 L475.85 183.10" stroke="#a27468"/>
<path d="M382.95 171.00 L396.22 172.90 L409.49 172.90 L422.76 171.00 L436.04 175.00 L449.31 168.20 L462.58 172.00 L475.85 176.60" stroke="#e98dd2"/>
<path d="M382.95 167.30 L396.22 161.20 L409.49 162.70 L422.76 164.50 L436.04 166.40 L449.31 163.60 L462.58 163.60 L475.85 172.90" stroke="#959595"/>
</g>
<rect x="378.30" y="127.00" width="102.20" height="84.30" fill="none" stroke="#b4b4b4" stroke-width="0.9"/>
<line x1="376.50" y1="127.00" x2="378.30" y2="127.00" stroke="#999" stroke-width="0.8"/>
<text x="376.60" y="129.60" font-size="7.5" text-anchor="end" fill="#262626">1.0</text>
<line x1="376.50" y1="148.07" x2="378.30" y2="148.07" stroke="#999" stroke-width="0.8"/>
<text x="376.60" y="150.67" font-size="7.5" text-anchor="end" fill="#262626">0.5</text>
<line x1="376.50" y1="169.15" x2="378.30" y2="169.15" stroke="#999" stroke-width="0.8"/>
<text x="376.60" y="171.75" font-size="7.5" text-anchor="end" fill="#262626">0.0</text>
<line x1="376.50" y1="190.23" x2="378.30" y2="190.23" stroke="#999" stroke-width="0.8"/>
<text x="376.60" y="192.83" font-size="7.5" text-anchor="end" fill="#262626">−0.5</text>
<line x1="376.50" y1="211.30" x2="378.30" y2="211.30" stroke="#999" stroke-width="0.8"/>
<text x="376.60" y="213.90" font-size="7.5" text-anchor="end" fill="#262626">−1.0</text>
<line x1="382.95" y1="211.30" x2="382.95" y2="213.50" stroke="#999" stroke-width="0.8"/>
<text transform="translate(382.35 222.60) rotate(-23)" font-size="6.5" text-anchor="middle" fill="#262626" dy="2.2">SON '12</text>
<line x1="396.22" y1="211.30" x2="396.22" y2="213.50" stroke="#999" stroke-width="0.8"/>
<text transform="translate(395.62 222.60) rotate(-23)" font-size="6.5" text-anchor="middle" fill="#262626" dy="2.2">SON '13</text>
<line x1="409.49" y1="211.30" x2="409.49" y2="213.50" stroke="#999" stroke-width="0.8"/>
<text transform="translate(408.89 222.60) rotate(-23)" font-size="6.5" text-anchor="middle" fill="#262626" dy="2.2">SON '14</text>
<line x1="422.76" y1="211.30" x2="422.76" y2="213.50" stroke="#999" stroke-width="0.8"/>
<text transform="translate(422.16 222.60) rotate(-23)" font-size="6.5" text-anchor="middle" fill="#262626" dy="2.2">SON '15</text>
<line x1="436.04" y1="211.30" x2="436.04" y2="213.50" stroke="#999" stroke-width="0.8"/>
<text transform="translate(435.44 222.60) rotate(-23)" font-size="6.5" text-anchor="middle" fill="#262626" dy="2.2">SON '16</text>
<line x1="449.31" y1="211.30" x2="449.31" y2="213.50" stroke="#999" stroke-width="0.8"/>
<text transform="translate(448.71 222.60) rotate(-23)" font-size="6.5" text-anchor="middle" fill="#262626" dy="2.2">SON '17</text>
<line x1="462.58" y1="211.30" x2="462.58" y2="213.50" stroke="#999" stroke-width="0.8"/>
<text transform="translate(461.98 222.60) rotate(-23)" font-size="6.5" text-anchor="middle" fill="#262626" dy="2.2">SON '18</text>
<line x1="475.85" y1="211.30" x2="475.85" y2="213.50" stroke="#999" stroke-width="0.8"/>
<text transform="translate(475.25 222.60) rotate(-23)" font-size="6.5" text-anchor="middle" fill="#262626" dy="2.2">SON '19</text>
<text x="388.90" y="124.40" font-size="8.2" text-anchor="end" fill="#262626">f)</text>
<text transform="translate(351.10 168.75) rotate(-90)" font-size="8" text-anchor="middle" fill="#262626">Mean Bias Error</text>
<text transform="translate(360.30 168.25) rotate(-90)" font-size="8" text-anchor="middle" fill="#262626" textLength="66.00" lengthAdjust="spacingAndGlyphs">(×10<tspan font-size="5.6" dy="-2.8">12</tspan><tspan dy="2.8"> mol </tspan><tspan font-style="italic">cm</tspan><tspan font-size="5.6" dy="-2.8">−3</tspan><tspan dy="2.8">)</tspan></text>
<text x="429.40" y="237.30" font-size="7.8" text-anchor="middle" fill="#262626">Period</text>
<clipPath id="c516_127"><rect x="516.10" y="127.00" width="101.90" height="84.30"/></clipPath>
<line x1="516.10" y1="134.03" x2="618.00" y2="134.03" stroke="#e4e4e4" stroke-width="0.7" stroke-dasharray="1.6 0.9"/>
<line x1="516.10" y1="141.05" x2="618.00" y2="141.05" stroke="#e4e4e4" stroke-width="0.7" stroke-dasharray="1.6 0.9"/>
<line x1="516.10" y1="148.07" x2="618.00" y2="148.07" stroke="#e4e4e4" stroke-width="0.7" stroke-dasharray="1.6 0.9"/>
<line x1="516.10" y1="155.10" x2="618.00" y2="155.10" stroke="#e4e4e4" stroke-width="0.7" stroke-dasharray="1.6 0.9"/>
<line x1="516.10" y1="162.12" x2="618.00" y2="162.12" stroke="#e4e4e4" stroke-width="0.7" stroke-dasharray="1.6 0.9"/>
<line x1="516.10" y1="176.18" x2="618.00" y2="176.18" stroke="#e4e4e4" stroke-width="0.7" stroke-dasharray="1.6 0.9"/>
<line x1="516.10" y1="183.20" x2="618.00" y2="183.20" stroke="#e4e4e4" stroke-width="0.7" stroke-dasharray="1.6 0.9"/>
<line x1="516.10" y1="190.23" x2="618.00" y2="190.23" stroke="#e4e4e4" stroke-width="0.7" stroke-dasharray="1.6 0.9"/>
<line x1="516.10" y1="197.25" x2="618.00" y2="197.25" stroke="#e4e4e4" stroke-width="0.7" stroke-dasharray="1.6 0.9"/>
<line x1="516.10" y1="204.28" x2="618.00" y2="204.28" stroke="#e4e4e4" stroke-width="0.7" stroke-dasharray="1.6 0.9"/>
<line x1="520.73" y1="127.00" x2="520.73" y2="211.30" stroke="#e0e0e0" stroke-width="0.9" stroke-dasharray="2.5 0.5"/>
<line x1="533.97" y1="127.00" x2="533.97" y2="211.30" stroke="#e0e0e0" stroke-width="0.9" stroke-dasharray="2.5 0.5"/>
<line x1="547.20" y1="127.00" x2="547.20" y2="211.30" stroke="#e0e0e0" stroke-width="0.9" stroke-dasharray="2.5 0.5"/>
<line x1="560.43" y1="127.00" x2="560.43" y2="211.30" stroke="#e0e0e0" stroke-width="0.9" stroke-dasharray="2.5 0.5"/>
<line x1="573.67" y1="127.00" x2="573.67" y2="211.30" stroke="#e0e0e0" stroke-width="0.9" stroke-dasharray="2.5 0.5"/>
<line x1="586.90" y1="127.00" x2="586.90" y2="211.30" stroke="#e0e0e0" stroke-width="0.9" stroke-dasharray="2.5 0.5"/>
<line x1="600.13" y1="127.00" x2="600.13" y2="211.30" stroke="#e0e0e0" stroke-width="0.9" stroke-dasharray="2.5 0.5"/>
<line x1="613.37" y1="127.00" x2="613.37" y2="211.30" stroke="#e0e0e0" stroke-width="0.9" stroke-dasharray="2.5 0.5"/>
<line x1="516.10" y1="169.15" x2="618.00" y2="169.15" stroke="#7a7a7a" stroke-width="0.9" stroke-dasharray="3 1.2"/>
<g clip-path="url(#c516_127)" fill="none" stroke-width="1.05" stroke-linejoin="round">
<path d="M520.73 157.20 L533.97 170.20 L547.20 161.80 L560.43 155.30 L573.67 164.00 L586.90 155.20 L600.13 160.70 L613.37 167.30" stroke="#5a98d2"/>
<path d="M520.73 169.90 L533.97 170.90 L547.20 170.20 L560.43 138.40 L573.67 166.50 L586.90 176.10 L600.13 173.40 L613.37 182.20" stroke="#ffa458"/>
<path d="M520.73 159.30 L533.97 172.40 L547.20 163.70 L560.43 136.10 L573.67 165.70 L586.90 164.50 L600.13 167.30 L613.37 175.60" stroke="#58b458"/>
<path d="M520.73 170.90 L533.97 170.90 L547.20 151.70 L560.43 146.20 L573.67 174.80 L586.90 167.30 L600.13 166.20 L613.37 173.90" stroke="#de5656"/>
<path d="M520.73 172.10 L533.97 173.80 L547.20 161.90 L560.43 166.60 L573.67 168.10 L586.90 167.30 L600.13 170.60 L613.37 174.80" stroke="#ab8cd2"/>
<path d="M520.73 175.30 L533.97 171.60 L547.20 173.10 L560.43 176.70 L573.67 180.00 L586.90 174.80 L600.13 176.40 L613.37 178.00" stroke="#a27468"/>
<path d="M520.73 168.70 L533.97 170.90 L547.20 171.60 L560.43 171.60 L573.67 174.80 L586.90 172.30 L600.13 171.40 L613.37 176.40" stroke="#e98dd2"/>
<path d="M520.73 166.30 L533.97 157.90 L547.20 160.10 L560.43 161.10 L573.67 166.50 L586.90 159.90 L600.13 160.70 L613.37 173.90" stroke="#959595"/>
</g>
<rect x="516.10" y="127.00" width="101.90" height="84.30" fill="none" stroke="#b4b4b4" stroke-width="0.9"/>
<line x1="514.30" y1="127.00" x2="516.10" y2="127.00" stroke="#999" stroke-width="0.8"/>
<text x="514.40" y="129.60" font-size="7.5" text-anchor="end" fill="#262626">30</text>
<line x1="514.30" y1="141.05" x2="516.10" y2="141.05" stroke="#999" stroke-width="0.8"/>
<text x="514.40" y="143.65" font-size="7.5" text-anchor="end" fill="#262626">20</text>
<line x1="514.30" y1="155.10" x2="516.10" y2="155.10" stroke="#999" stroke-width="0.8"/>
<text x="514.40" y="157.70" font-size="7.5" text-anchor="end" fill="#262626">10</text>
<line x1="514.30" y1="169.15" x2="516.10" y2="169.15" stroke="#999" stroke-width="0.8"/>
<text x="514.40" y="171.75" font-size="7.5" text-anchor="end" fill="#262626">0</text>
<line x1="514.30" y1="183.20" x2="516.10" y2="183.20" stroke="#999" stroke-width="0.8"/>
<text x="514.40" y="185.80" font-size="7.5" text-anchor="end" fill="#262626">−10</text>
<line x1="514.30" y1="197.25" x2="516.10" y2="197.25" stroke="#999" stroke-width="0.8"/>
<text x="514.40" y="199.85" font-size="7.5" text-anchor="end" fill="#262626">−20</text>
<line x1="514.30" y1="211.30" x2="516.10" y2="211.30" stroke="#999" stroke-width="0.8"/>
<text x="514.40" y="213.90" font-size="7.5" text-anchor="end" fill="#262626">−30</text>
<line x1="520.73" y1="211.30" x2="520.73" y2="213.50" stroke="#999" stroke-width="0.8"/>
<text transform="translate(520.13 222.60) rotate(-23)" font-size="6.5" text-anchor="middle" fill="#262626" dy="2.2">SON '12</text>
<line x1="533.97" y1="211.30" x2="533.97" y2="213.50" stroke="#999" stroke-width="0.8"/>
<text transform="translate(533.37 222.60) rotate(-23)" font-size="6.5" text-anchor="middle" fill="#262626" dy="2.2">SON '13</text>
<line x1="547.20" y1="211.30" x2="547.20" y2="213.50" stroke="#999" stroke-width="0.8"/>
<text transform="translate(546.60 222.60) rotate(-23)" font-size="6.5" text-anchor="middle" fill="#262626" dy="2.2">SON '14</text>
<line x1="560.43" y1="211.30" x2="560.43" y2="213.50" stroke="#999" stroke-width="0.8"/>
<text transform="translate(559.83 222.60) rotate(-23)" font-size="6.5" text-anchor="middle" fill="#262626" dy="2.2">SON '15</text>
<line x1="573.67" y1="211.30" x2="573.67" y2="213.50" stroke="#999" stroke-width="0.8"/>
<text transform="translate(573.07 222.60) rotate(-23)" font-size="6.5" text-anchor="middle" fill="#262626" dy="2.2">SON '16</text>
<line x1="586.90" y1="211.30" x2="586.90" y2="213.50" stroke="#999" stroke-width="0.8"/>
<text transform="translate(586.30 222.60) rotate(-23)" font-size="6.5" text-anchor="middle" fill="#262626" dy="2.2">SON '17</text>
<line x1="600.13" y1="211.30" x2="600.13" y2="213.50" stroke="#999" stroke-width="0.8"/>
<text transform="translate(599.53 222.60) rotate(-23)" font-size="6.5" text-anchor="middle" fill="#262626" dy="2.2">SON '18</text>
<line x1="613.37" y1="211.30" x2="613.37" y2="213.50" stroke="#999" stroke-width="0.8"/>
<text transform="translate(612.77 222.60) rotate(-23)" font-size="6.5" text-anchor="middle" fill="#262626" dy="2.2">SON '19</text>
<text x="526.70" y="124.40" font-size="8.2" text-anchor="end" fill="#262626">h)</text>
<text transform="translate(491.50 168.65) rotate(-90)" font-size="8" text-anchor="middle" fill="#262626">Relative</text>
<text transform="translate(501.40 169.40) rotate(-90)" font-size="8" text-anchor="middle" fill="#262626" textLength="72.50" lengthAdjust="spacingAndGlyphs">Mean Bias Error (%)</text>
<text x="567.05" y="237.30" font-size="7.8" text-anchor="middle" fill="#262626">Period</text>
<line x1="279.70" y1="28.30" x2="295.00" y2="28.30" stroke="#2f5fd9" stroke-width="1.1"/>
<text x="300.20" y="30.80" font-size="7" fill="#262626">Marambio</text>
<line x1="279.70" y1="38.50" x2="295.00" y2="38.50" stroke="#d9474f" stroke-width="1.1"/>
<text x="300.20" y="41.00" font-size="7" fill="#262626">Neumayer</text>
<line x1="279.70" y1="48.80" x2="295.00" y2="48.80" stroke="#5cb85c" stroke-width="1.1"/>
<text x="300.20" y="51.30" font-size="7" fill="#262626">Syowa</text>
<line x1="279.70" y1="59.00" x2="295.00" y2="59.00" stroke="#b493e0" stroke-width="1.1"/>
<text x="300.20" y="61.50" font-size="7" fill="#262626">Davis</text>
<line x1="279.70" y1="73.30" x2="295.00" y2="73.30" stroke="#f5963a" stroke-width="1.1"/>
<text x="300.20" y="72.00" font-size="7" fill="#262626">Dumont</text>
<text x="300.20" y="79.60" font-size="7" fill="#262626">d'Urville</text>
<line x1="279.70" y1="91.10" x2="295.00" y2="91.10" stroke="#c2c230" stroke-width="1.1"/>
<text x="300.20" y="89.80" font-size="7" fill="#262626">Amundsen-</text>
<text x="300.20" y="97.40" font-size="7" fill="#262626">Scott</text>
<line x1="634.40" y1="27.70" x2="649.00" y2="27.70" stroke="#5a98d2" stroke-width="1.1"/>
<text x="654.70" y="30.20" font-size="7" fill="#262626">12.5 km</text>
<line x1="634.40" y1="37.85" x2="649.00" y2="37.85" stroke="#ffa458" stroke-width="1.1"/>
<text x="654.70" y="40.35" font-size="7" fill="#262626">14.5 km</text>
<line x1="634.40" y1="48.00" x2="649.00" y2="48.00" stroke="#58b458" stroke-width="1.1"/>
<text x="654.70" y="50.50" font-size="7" fill="#262626">16.5 km</text>
<line x1="634.40" y1="58.15" x2="649.00" y2="58.15" stroke="#de5656" stroke-width="1.1"/>
<text x="654.70" y="60.65" font-size="7" fill="#262626">18.5 km</text>
<line x1="634.40" y1="68.30" x2="649.00" y2="68.30" stroke="#ab8cd2" stroke-width="1.1"/>
<text x="654.70" y="70.80" font-size="7" fill="#262626">20.5 km</text>
<line x1="634.40" y1="78.45" x2="649.00" y2="78.45" stroke="#a27468" stroke-width="1.1"/>
<text x="654.70" y="80.95" font-size="7" fill="#262626">22.5 km</text>
<line x1="634.40" y1="88.60" x2="649.00" y2="88.60" stroke="#e98dd2" stroke-width="1.1"/>
<text x="654.70" y="91.10" font-size="7" fill="#262626">24.5 km</text>
<line x1="634.40" y1="98.75" x2="649.00" y2="98.75" stroke="#959595" stroke-width="1.1"/>
<text x="654.70" y="101.25" font-size="7" fill="#262626">26.5 km</text>
</svg>
</body></html>
